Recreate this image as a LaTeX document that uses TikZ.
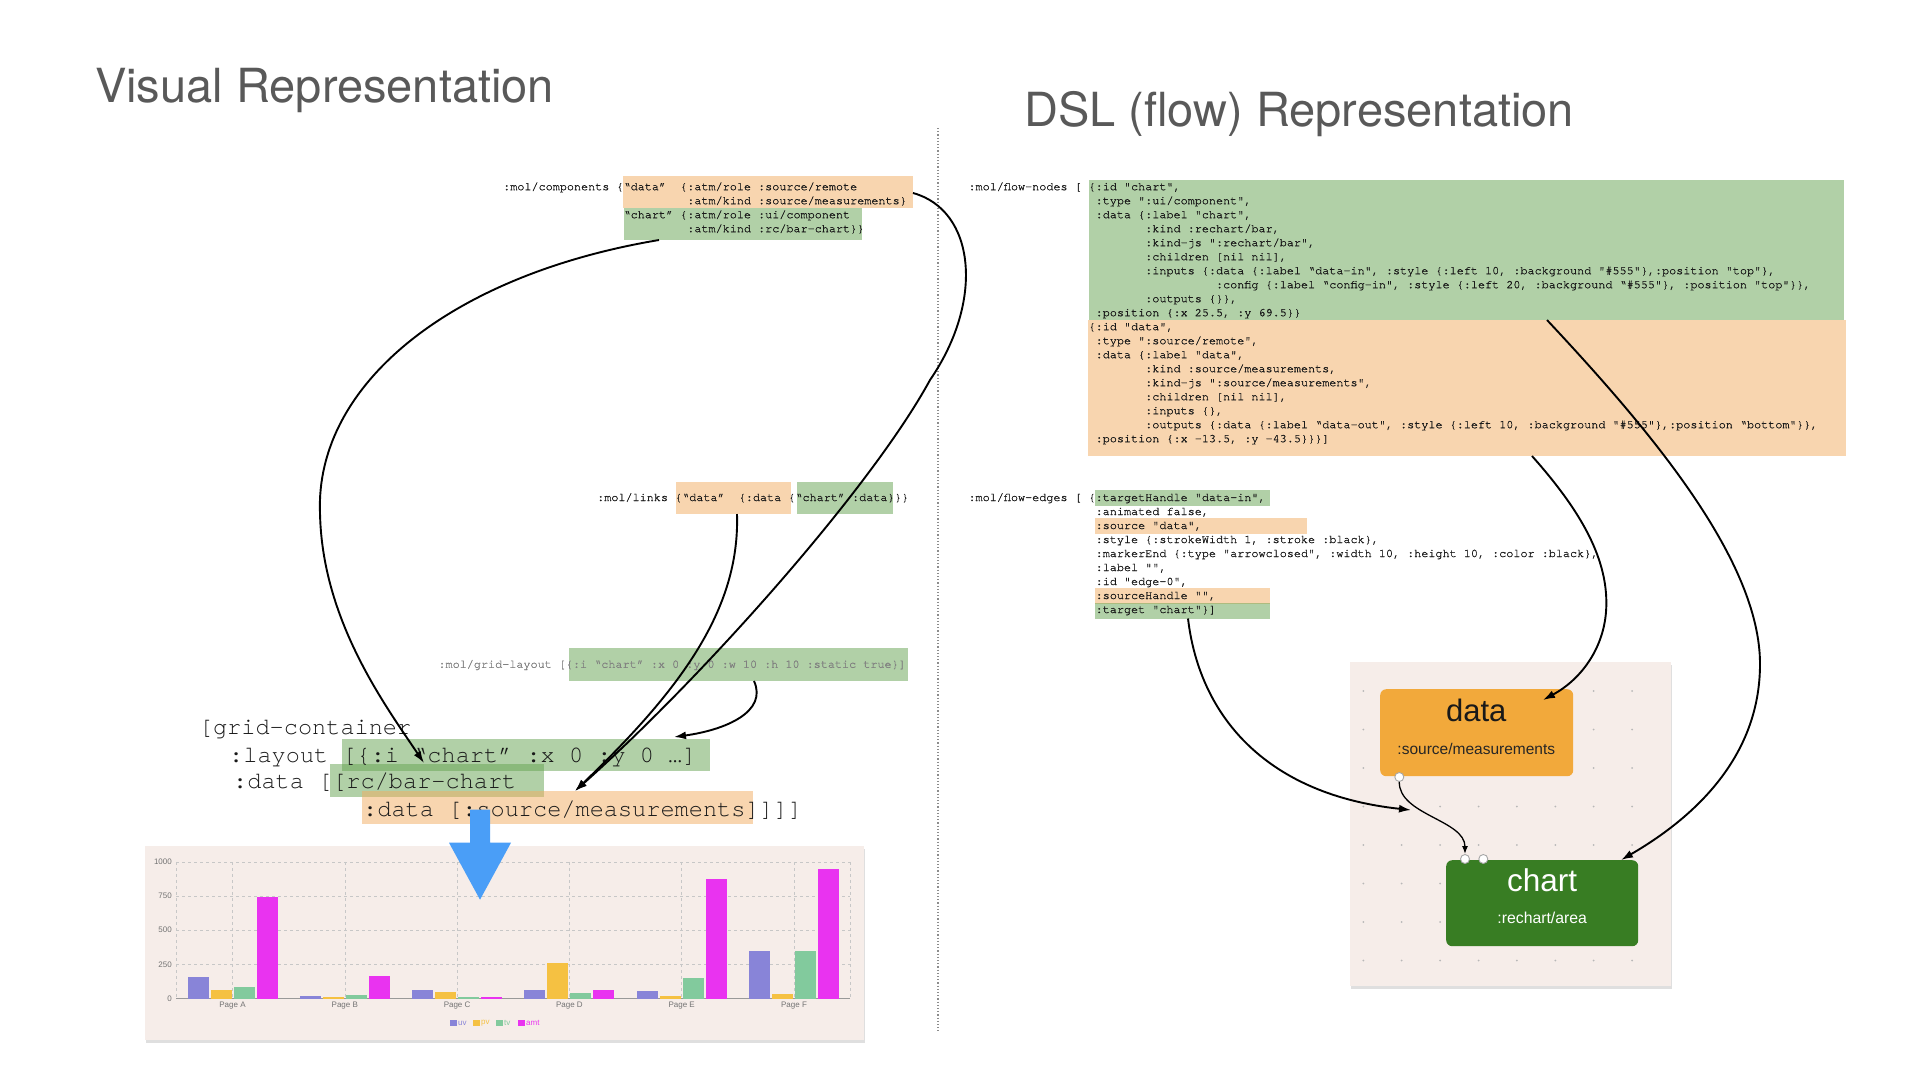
\documentclass[tikz,border=0pt]{standalone}
\usepackage{fontspec}
\setmainfont{Liberation Sans}
\setmonofont{texgyrecursor-regular.otf}
\newfontfamily\smallmono[FakeBold=0.9]{texgyrecursor-regular.otf}
\newfontfamily\headfont{TeX Gyre Heros}
\usetikzlibrary{arrows.meta,shadows}
\definecolor{peach}{RGB}{243,173,97}
\definecolor{sage}{RGB}{101,163,81}
\definecolor{headgray}{RGB}{89,89,89}
\definecolor{codeink}{RGB}{25,25,25}
\definecolor{panelbg}{RGB}{246,237,233}
\definecolor{dataorange}{RGB}{242,169,59}
\definecolor{chartgreen}{RGB}{56,125,35}
\definecolor{flowblue}{RGB}{74,158,247}
\definecolor{uvcol}{RGB}{136,132,216}
\definecolor{pvcol}{RGB}{245,193,66}
\definecolor{tvcol}{RGB}{130,202,157}
\definecolor{amtcol}{RGB}{233,51,240}

\begin{document}
\begin{tikzpicture}[x=1pt,y=-1pt,
  code/.style={anchor=base west,inner sep=0pt,text=codeink,font=\smallmono\fontsize{11.8}{14}\selectfont},
  bigcode/.style={anchor=base west,inner sep=0pt,text=codeink,font=\ttfamily\fontsize{23.6}{27}\selectfont},
  hlo/.style={fill=peach,fill opacity=0.5},
  hlg/.style={fill=sage,fill opacity=0.5},
  link/.style={line width=1.9pt,->,>={Latex[length=12pt,width=8pt]}},
  handle/.style={circle,draw=black!35,fill=white,line width=0.9pt,minimum size=9pt,inner sep=0pt},
  axislabel/.style={inner sep=0pt,text=black!55,font=\fontsize{8}{9}\selectfont},
  gridline/.style={black!22,dashed,line width=0.6pt}]
\useasboundingbox (0,0) rectangle (1920,1080);
\fill[white] (0,0) rectangle (1920,1080);

% titles and divider
\node[anchor=base west,inner sep=0pt,text=headgray,font=\headfont\fontsize{47}{50}\selectfont] (vistitle) at (95,102) {Visual Representation};
\node[anchor=base west,inner sep=0pt,text=headgray,font=\headfont\fontsize{47}{50}\selectfont] (dsltitle) at (1024,126) {DSL (flow) Representation};
\draw[black!45,dotted,line width=1.2pt] (938,128) -- (938,1031);

% highlights
\path[hlo] (623,176) rectangle (913,207.5);
\path[hlg] (624,207.5) rectangle (862,240);
\path[hlo] (676,482) rectangle (791,514);
\path[hlg] (797,482) rectangle (893,514);
\path[hlg] (569,648) rectangle (908,681);
\path[hlg] (342,738.6) rectangle (710,770.6);
\path[hlg] (329.6,764.2) rectangle (543.7,796.7);
\path[hlo] (361.8,791) rectangle (752.7,824);
\path[hlg] (1089,180) rectangle (1844,320);
\path[hlo] (1088,320) rectangle (1846,456);
\path[hlg] (1095,490) rectangle (1270,506);
\path[hlo] (1095,518) rectangle (1307,534);
\path[hlo] (1095,588) rectangle (1270,604);
\path[hlg] (1095,603) rectangle (1270,618.5);

% left code
\node[code] (comps) at (503,190.2) {:mol/components \{};
\foreach \codeline [count=\i from 0] in {
  {“data”~~\{:atm/role :source/remote},
  {~~~~~~~~~:atm/kind :source/measurements\}},
  {“chart” \{:atm/role :ui/component},
  {~~~~~~~~~:atm/kind :rc/bar-chart\}\}}}
  \node[code] (comp\i) at (623.4,190.2+14*\i) {\codeline};
\node[code] (links) at (597,501) {:mol/links \{“data”~~\{:data \{“chart” :data\}\}\}};
\node[code,text=black!50] (gridlay) at (438.3,667.8) {:mol/grid-layout [\{:i “chart” :x 0 :y 0 :w 10 :h 10 :static true\}]};

\node[bigcode] (gc1) at (198.7,734.7) {[grid-container};
\node[bigcode] (gc2) at (229,762.1) {:layout [\{:i “chart” :x 0 :y 0 …]};
\node[bigcode] (gc3) at (233,788.8) {:data [[rc/bar-chart};
\node[bigcode] (gc4) at (363,816.1) {:data [:source/measurements]]]]};

% right code
\node[code] (fnodes) at (968.3,190.2) {:mol/flow-nodes [};
\foreach \codeline [count=\i from 0] in {
  {\{:id "chart",},
  {~:type ":ui/component",},
  {~:data \{:label "chart",},
  {~~~~~~~~:kind :rechart/bar,},
  {~~~~~~~~:kind-js ":rechart/bar",},
  {~~~~~~~~:children [nil nil],},
  {~~~~~~~~:inputs \{:data \{:label “data-in", :style \{:left 10, :background "\#555"\},:position "top"\},},
  {~~~~~~~~~~~~~~~~~~:config \{:label “config-in", :style \{:left 20, :background “\#555"\}, :position "top"\}\},},
  {~~~~~~~~:outputs \{\}\},},
  {~:position \{:x 25.5, :y 69.5\}\}},
  {\{:id "data",},
  {~:type ":source/remote",},
  {~:data \{:label "data",},
  {~~~~~~~~:kind :source/measurements,},
  {~~~~~~~~:kind-js ":source/measurements",},
  {~~~~~~~~:children [nil nil],},
  {~~~~~~~~:inputs \{\},},
  {~~~~~~~~:outputs \{:data \{:label “data-out", :style \{:left 10, :background "\#555"\},:position “bottom"\}\},},
  {~:position \{:x -13.5, :y -43.5\}\}\}]}}
  \node[code] (fn\i) at (1088.4,190.2+14*\i) {\codeline};
\node[code] (fedges) at (968.3,501) {:mol/flow-edges [};
\foreach \codeline [count=\i from 0] in {
  {\{:targetHandle "data-in",},
  {~:animated false,},
  {~:source "data",},
  {~:style \{:strokeWidth 1, :stroke :black\},},
  {~:markerEnd \{:type "arrowclosed", :width 10, :height 10, :color :black\},},
  {~:label "",},
  {~:id "edge-0",},
  {~:sourceHandle "",},
  {~:target "chart"\}]}}
  \node[code] (fe\i) at (1088.4,501+14*\i) {\codeline};

% flow panel
\fill[panelbg,drop shadow={opacity=0.25,shadow xshift=1pt,shadow yshift=-3pt}] (1350,662) rectangle (1671,986);
\foreach \i in {0,...,7}
  \foreach \j in {0,...,7}
    \fill[black!28] (1363.3+38.4*\i,691+38.5*\j) circle (1pt);
\node[fill=dataorange,rounded corners=6pt,minimum width=193pt,minimum height=87pt,inner sep=0pt,anchor=north west] (datanode) at (1380,689) {};
\node[anchor=base,inner sep=0pt,text=black!90,font=\fontsize{31}{34}\selectfont] (datatitle) at (1476.3,721.7) {data};
\node[anchor=base,inner sep=0pt,text=black!85,font=\fontsize{15.5}{18}\selectfont] (datakind) at (1476.3,754.5) {:source/measurements};
\node[fill=chartgreen,rounded corners=6pt,minimum width=192pt,minimum height=86pt,inner sep=0pt,anchor=north west] (chartnode) at (1446,860) {};
\node[anchor=base,inner sep=0pt,text=white,font=\fontsize{31.5}{34}\selectfont] (charttitle) at (1542.2,891.7) {chart};
\node[anchor=base,inner sep=0pt,text=white,font=\fontsize{15.8}{18}\selectfont] (chartkind) at (1542.2,923.3) {:rechart/area};
\node[handle] (dataout) at (1399.3,777) {};
\node[handle] (chartin1) at (1465,859) {};
\node[handle] (chartin2) at (1483.3,859) {};
\draw[line width=1.3pt,->,>={Latex[length=8pt,width=6pt]}] (dataout) .. controls (1399,815) and (1465,820) .. (chartin1);

% connector ends
\coordinate (compchart) at (659,240);
\coordinate (compdata) at (913,193);
\coordinate (linkdata) at (737,514);
\coordinate (gridbox) at (754,681);
\coordinate (gcchart) at (424,763);
\coordinate (gcsource) at (575,791);
\coordinate (gclayout) at (674,737);
\coordinate (fnchart) at (1547,320);
\coordinate (fndata) at (1532,456);
\coordinate (fetarget) at (1188,618.5);
\coordinate (datain) at (1543,700);
\coordinate (chartin) at (1621,860);
\coordinate (panelin) at (1411,810);

\draw[link] (compchart) .. controls (450,275) and (315,385) .. (320,513) .. controls (322,620) and (385,705) .. (gcchart);
\draw[link] (compdata) .. controls (975,210) and (985,300) .. (930,380) .. controls (870,490) and (700,680) .. (gcsource);
\draw[link] (linkdata) .. controls (740,610) and (680,690) .. (gcsource);
\draw[link] (gridbox) .. controls (768,712) and (725,730) .. (gclayout);
\draw[link] (fndata) .. controls (1580,510) and (1610,560) .. (1606,612) .. controls (1603,650) and (1580,680) .. (datain);
\draw[link] (fnchart) .. controls (1650,430) and (1760,560) .. (1760,664) .. controls (1760,760) and (1690,820) .. (chartin);
\draw[link] (fetarget) .. controls (1200,720) and (1270,795) .. (panelin);

% bar chart
\fill[panelbg,drop shadow={opacity=0.25,shadow xshift=1pt,shadow yshift=-3pt}] (145,845.6) rectangle (863.5,1040.3);
\foreach \v in {250,500,750,1000}
  \draw[gridline] (176.3,998.5-0.1366*\v) -- (850.3,998.5-0.1366*\v);
\foreach \k in {0,...,5}
  \draw[gridline] (232.5+112.3*\k,861.9) -- (232.5+112.3*\k,998.5);
\draw[gridline] (850.3,861.9) -- (850.3,998.5);
\draw[gridline] (176.3,861.9) -- (176.3,998.5);
\draw[black!40,line width=0.8pt] (176.3,998.5) -- (850.3,998.5);
\foreach \v in {0,250,500,750,1000}
  \node[axislabel,anchor=east] (yl\v) at (172,998.5-0.1366*\v) {\v};
\foreach \uv/\pv/\tv/\amt [count=\k from 0] in {156/60/84/745,22/14/24/166,62/48/12/14,60/260/41/60,53/17/147/878,345/31/348/948} {
  \pgfmathsetmacro\cx{232.5+112.3*\k}
  \fill[uvcol] (\cx-45,998.5) rectangle (\cx-24,998.5-0.1366*\uv);
  \fill[pvcol] (\cx-22,998.5) rectangle (\cx-1,998.5-0.1366*\pv);
  \fill[tvcol] (\cx+1,998.5) rectangle (\cx+22,998.5-0.1366*\tv);
  \fill[amtcol] (\cx+24,998.5) rectangle (\cx+45,998.5-0.1366*\amt);
}
\foreach \p [count=\k from 0] in {A,B,C,D,E,F}
  \node[axislabel] (page\p) at (232.5+112.3*\k,1006) {Page \p};
\foreach \s/\col/\xx in {uv/uvcol/450,pv/pvcol/473,tv/tvcol/496,amt/amtcol/518} {
  \fill[\col] (\xx,1019.5) rectangle (\xx+6.5,1026);
  \node[axislabel,anchor=west,text=\col] (leg\s) at (\xx+8,1023) {\s};
}

% blue arrow
\fill[flowblue] (470,809.5) -- (490,809.5) -- (490,842.7) -- (511,842.7) -- (480,899.7) -- (449,842.7) -- (470,842.7) -- cycle;

\end{tikzpicture}
\end{document}
